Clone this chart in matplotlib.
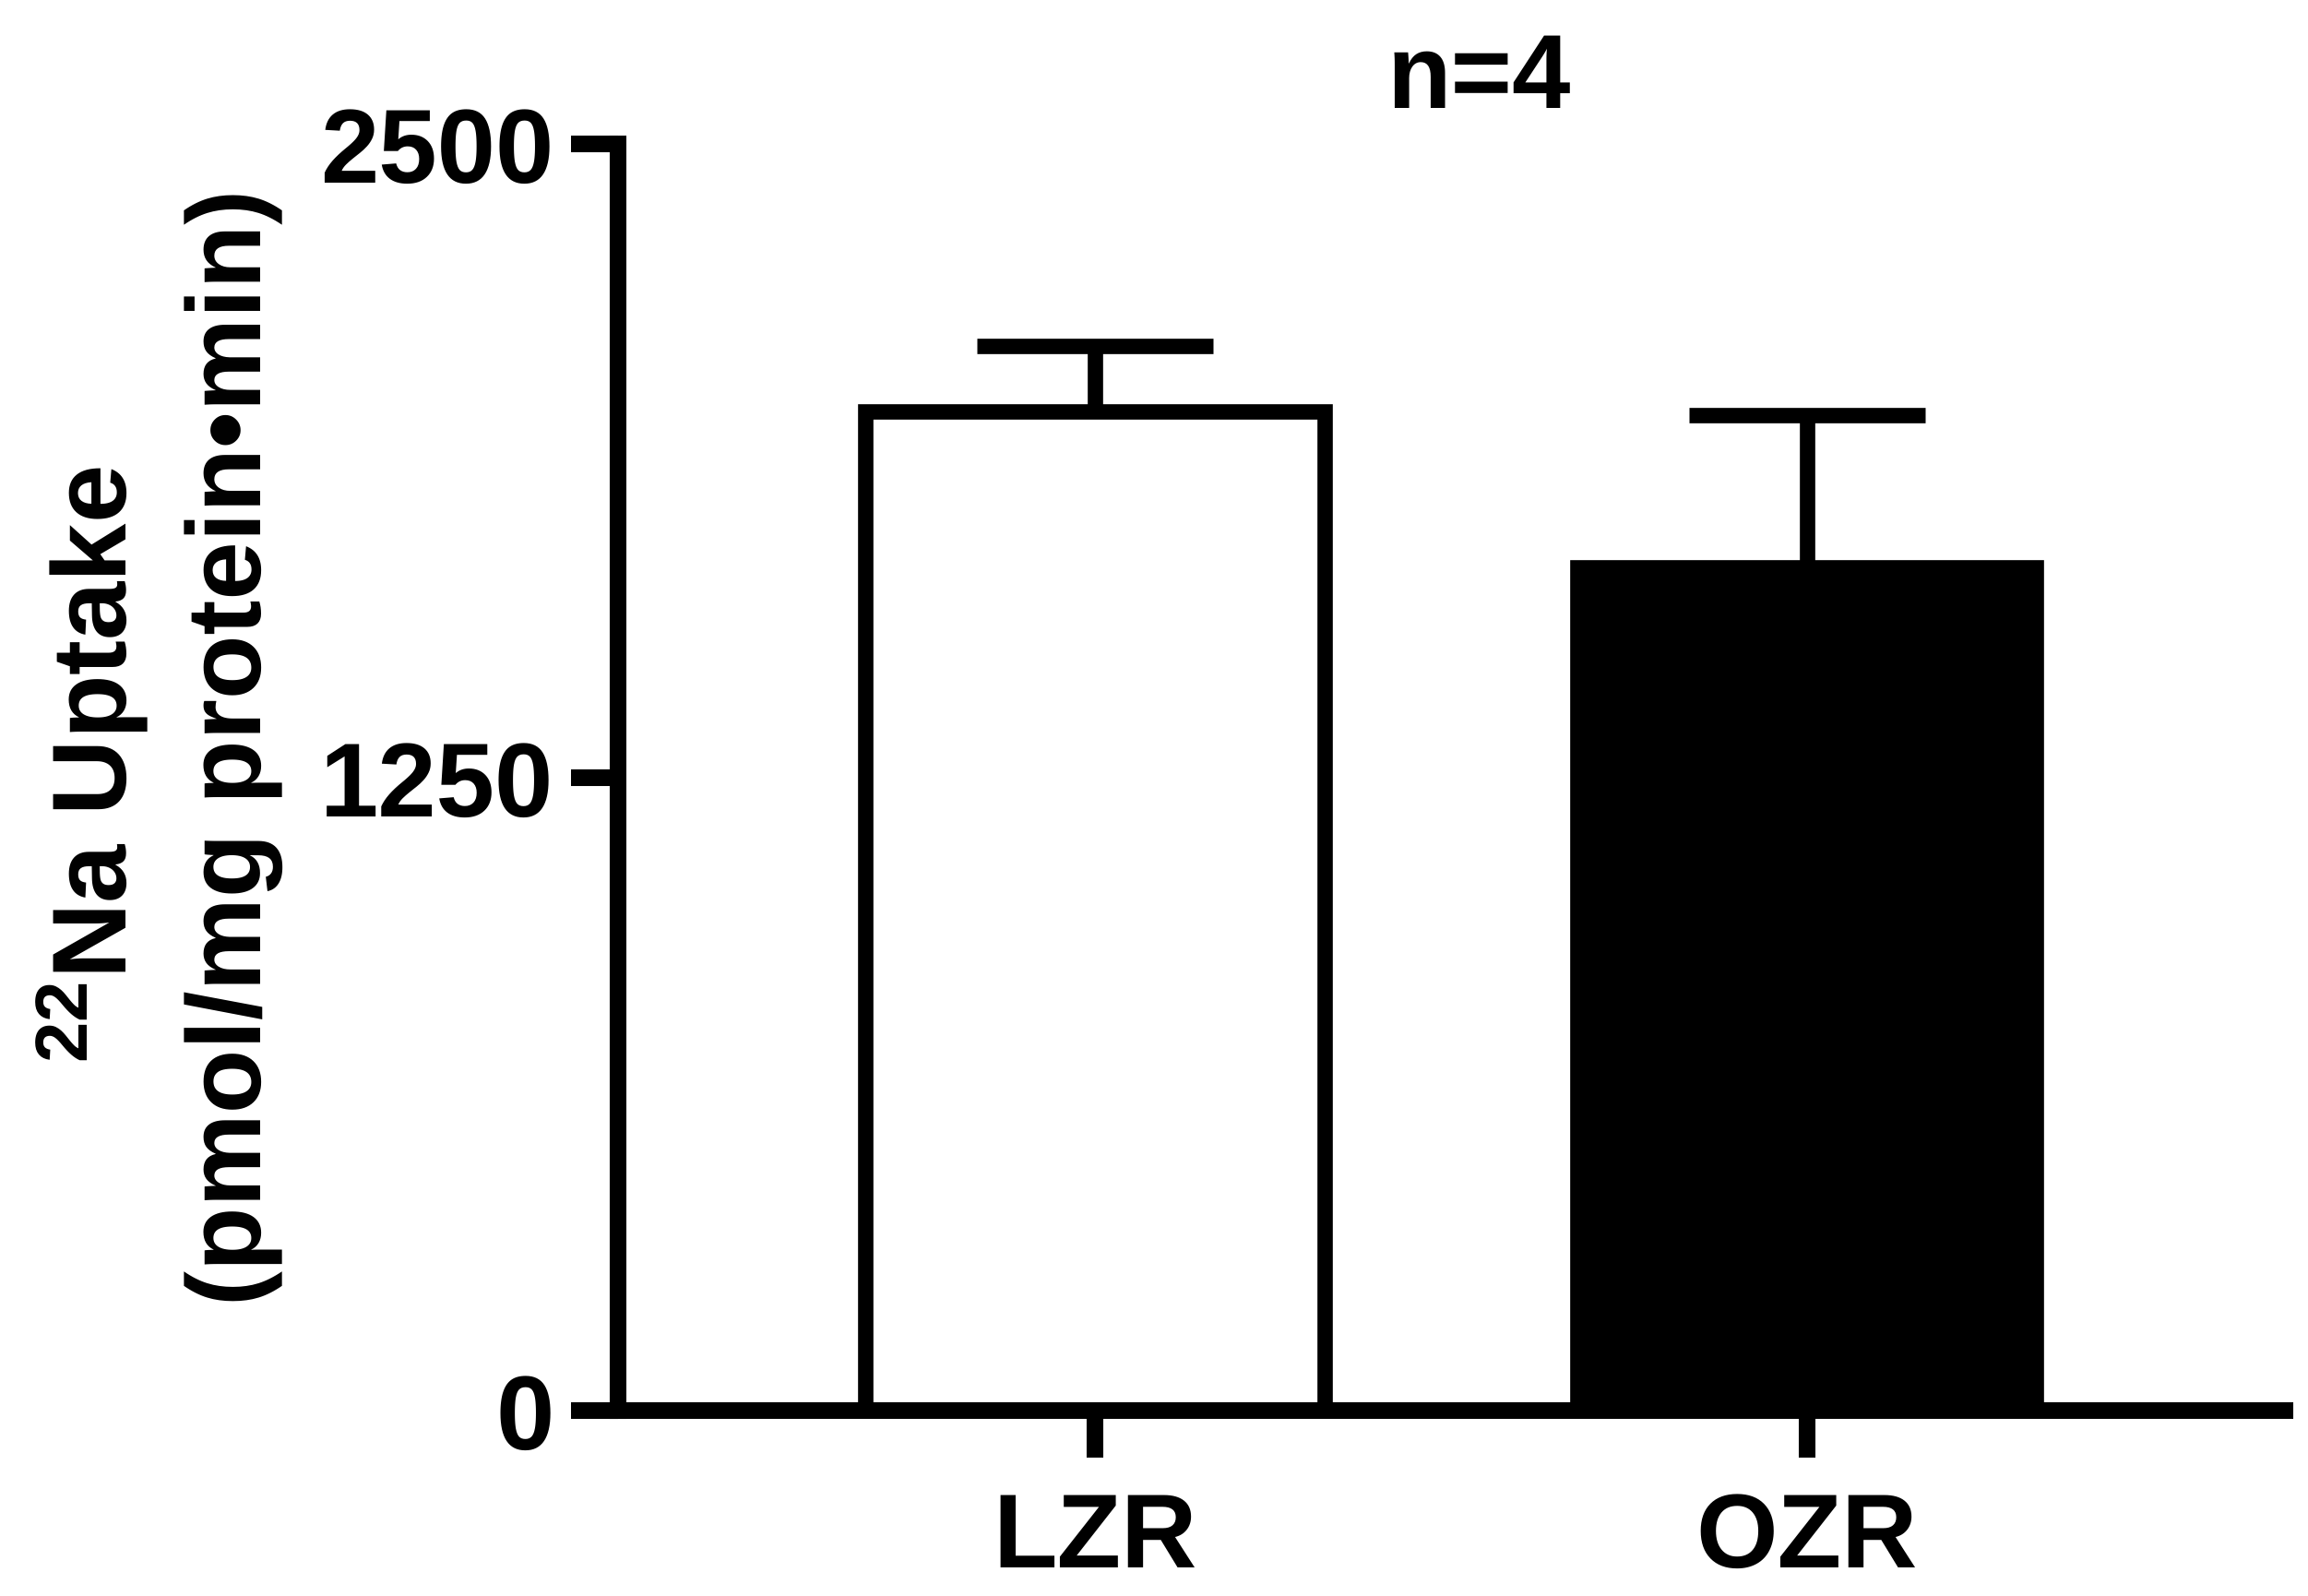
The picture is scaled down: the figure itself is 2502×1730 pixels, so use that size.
import matplotlib
matplotlib.use("Agg")
import matplotlib.pyplot as plt
import numpy as np

# data
groups = ["LZR", "OZR"]
uptake = [1972, 1665]
sem = [130, 300]
fills = ["white", "black"]
yticks = [0, 1250, 2500]
n_label = "n=4"

plt.rcParams['font.family'] = ['Liberation Sans', 'DejaVu Sans']
plt.rcParams['font.weight'] = 'bold'
plt.rcParams['mathtext.default'] = 'regular'
plt.rcParams['text.hinting'] = 'no_hinting'

fs = 82
lw = 13

fig = plt.figure(figsize=(25.02, 17.31), dpi=100)
ax = fig.add_axes([0.2678, 0.1161, 0.7222, 0.7932])

x = np.arange(len(groups))
ax.bar(x, uptake, width=0.645, color=fills, edgecolor="black", linewidth=12, zorder=2)

# only upper error bars
line, caps, bars = ax.errorbar(x, uptake, yerr=[np.zeros(len(sem)), sem], fmt="none",
                               ecolor="black", elinewidth=12, capsize=92.5, capthick=12, zorder=3)
caps[0].set_visible(False)

ax.set_xlim(-0.67, 1.672)
ax.set_ylim(0, 2500)
ax.set_yticks(yticks)
ax.set_yticklabels([str(t) for t in yticks])
ax.set_xticks(x)
ax.set_xticklabels(groups)

for s in ["top", "right"]:
    ax.spines[s].set_visible(False)
for s in ["left", "bottom"]:
    ax.spines[s].set_linewidth(lw)
    ax.spines[s].set_capstyle("projecting")

ax.tick_params(axis="y", length=37, width=lw, pad=13, labelsize=fs)
ax.tick_params(axis="x", length=37, width=lw, pad=25, labelsize=fs)
for lab in ax.get_xticklabels() + ax.get_yticklabels():
    lab.set_fontweight("bold")

# y label, two lines
fig.text(0.0548, 0.521, "$^{22}$Na Uptake", rotation=90, rotation_mode="anchor",
         ha="center", va="baseline", fontsize=fs, fontweight="bold")
fig.text(0.1131, 0.532, "(pmol/mg protein\u2022min)", rotation=90, rotation_mode="anchor",
         ha="center", va="baseline", fontsize=fs, fontweight="bold")

fig.text(0.6407, 0.9324, n_label, ha="center", va="baseline", fontsize=fs, fontweight="bold")

fig.savefig("out.png", dpi=100, facecolor="white")
